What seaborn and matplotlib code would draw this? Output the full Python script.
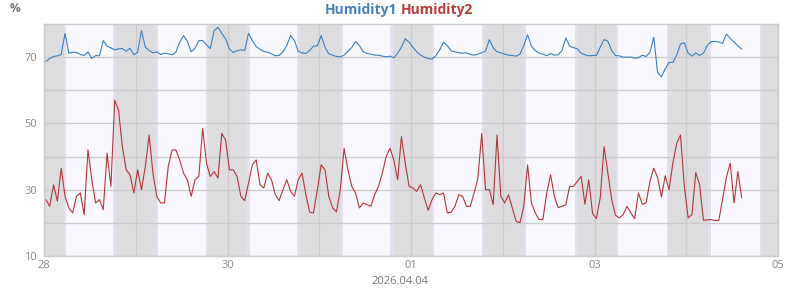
import numpy as np
import pandas as pd
import matplotlib
matplotlib.use("Agg")
import matplotlib.pyplot as plt
import matplotlib.dates as mdates
import seaborn as sns

# ---------------- data ----------------
start_time = "2026-03-28 00:30"   # hourly samples

humidity1 = [
    68.7, 69.6, 70.2, 70.4, 70.8, 77.2, 71.2, 71.5, 71.4, 70.8,
    70.5, 71.6, 69.6, 70.5, 70.4, 75.0, 73.3, 72.8, 72.2, 72.5,
    72.6, 71.8, 72.7, 70.7, 71.5, 78.0, 73.0, 72.0, 71.3, 71.6,
    70.8, 71.2, 71.0, 70.7, 71.5, 74.5, 76.5, 74.8, 71.6, 72.7,
    75.0, 75.0, 73.7, 72.6, 78.0, 79.0, 77.2, 75.5, 72.5, 71.4,
    72.0, 72.2, 72.0, 77.2, 75.0, 73.2, 72.4, 71.7, 71.5, 71.0,
    70.4, 70.5, 71.6, 73.5, 76.5, 75.0, 71.8, 71.3, 71.1, 72.0,
    73.3, 73.4, 76.5, 73.0, 71.0, 70.6, 70.2, 70.1, 70.6, 71.7,
    72.9, 74.7, 73.5, 71.6, 71.1, 70.9, 70.6, 70.6, 70.3, 70.1,
    70.3, 69.8, 71.2, 73.0, 75.6, 74.5, 73.0, 71.6, 70.6, 70.0,
    69.6, 69.4, 70.5, 72.2, 74.5, 73.5, 71.9, 71.6, 71.3, 71.2,
    71.3, 70.8, 70.6, 70.9, 71.3, 71.8, 75.3, 72.8, 71.6, 71.3,
    70.9, 70.6, 70.5, 70.3, 70.9, 73.5, 76.8, 73.3, 72.0, 71.2,
    70.9, 70.4, 71.1, 70.6, 70.7, 72.0, 75.8, 73.3, 72.9, 72.5,
    71.2, 70.7, 70.4, 70.5, 70.5, 73.0, 75.3, 74.8, 72.0, 70.5,
    70.4, 70.0, 70.0, 70.0, 69.7, 69.8, 70.6, 70.2, 71.5, 76.0,
    65.4, 64.0, 66.5, 68.4, 68.4, 70.6, 74.0, 74.3, 71.2, 70.3,
    71.3, 70.5, 71.2, 73.5, 74.7, 74.7, 74.6, 74.1, 77.0, 75.6,
    74.6, 73.4, 72.4,
]

humidity2 = [
    27.0, 25.0, 31.5, 26.5, 36.5, 28.0, 24.5, 23.0, 28.0, 29.0,
    22.5, 42.0, 33.0, 26.0, 27.0, 24.0, 41.0, 31.0, 57.0, 54.0,
    43.0, 36.0, 34.5, 29.0, 36.0, 30.0, 37.0, 46.5, 35.0, 28.0,
    26.0, 26.0, 37.0, 42.0, 42.0, 39.0, 35.0, 33.0, 28.0, 33.0,
    34.0, 48.5, 38.0, 34.0, 35.5, 33.5, 47.0, 45.0, 36.0, 36.0,
    34.0, 28.0, 26.7, 32.0, 37.5, 39.0, 31.5, 30.5, 35.0, 33.0,
    28.5, 26.7, 30.0, 33.0, 29.5, 28.0, 33.0, 35.0, 28.5, 23.2,
    23.0, 30.0, 37.5, 36.0, 28.0, 24.5, 23.3, 30.0, 42.5, 36.0,
    31.0, 29.0, 24.5, 26.0, 25.5, 25.0, 28.5, 31.0, 35.0, 40.0,
    42.5, 39.0, 33.0, 46.0, 38.0, 31.0, 30.5, 29.5, 31.5, 27.5,
    23.8, 27.0, 29.0, 28.5, 29.0, 23.0, 23.2, 25.0, 28.5, 28.0,
    25.0, 25.0, 29.0, 33.5, 47.0, 30.0, 30.0, 25.5, 46.5, 28.0,
    26.0, 28.5, 24.5, 20.5, 20.0, 25.0, 37.5, 26.0, 23.0, 21.0,
    21.0, 29.0, 34.5, 28.0, 24.6, 25.0, 25.5, 31.0, 31.0, 32.5,
    34.0, 25.6, 33.0, 22.8, 21.3, 27.6, 43.0, 35.0, 27.0, 22.3,
    21.5, 22.5, 25.0, 23.0, 21.3, 29.0, 25.6, 26.0, 32.5, 36.5,
    33.7, 27.8, 34.2, 30.0, 38.0, 44.0, 46.5, 31.0, 21.5, 22.5,
    35.2, 31.5, 20.8, 20.9, 21.0, 20.7, 20.7, 27.1, 33.7, 38.0,
    26.0, 35.5, 27.6,
]

# daylight (hours of day, local) for each day shown
day_dates = ["2026-03-28", "2026-03-29", "2026-03-30", "2026-03-31",
             "2026-04-01", "2026-04-02", "2026-04-03", "2026-04-04"]
sunrise_h = [5.50, 5.64, 5.50, 5.87, 5.70, 5.80, 5.87, 6.05]
sunset_h = [18.35, 18.55, 18.50, 18.90, 18.90, 19.15, 19.15, 19.55]

x_tick_dates = ["2026-03-28", "2026-03-30", "2026-04-01", "2026-04-03", "2026-04-05"]
x_tick_labels = ["28", "30", "01", "03", "05"]
y_tick_values = [10, 30, 50, 70]
series_names = ["Humidity1", "Humidity2"]
x_title = "2026.04.04"
y_unit = "%"

# ---------------- styling ----------------
sns.set_theme(style="white")
plt.rcParams["font.family"] = ["Open Sans", "DejaVu Sans"]

BLUE = "#3b7fbf"
RED = "#b5343b"
TITLE_BLUE = "#4682b8"
TITLE_RED = "#b83c3c"
NIGHT = "#dddde0"
DAY = "#faf8ff"
TWILIGHT = "#e4e0f0"
GRID = "#cbcbcb"
TXT = "#8a8a8a"

times = pd.date_range(start_time, periods=len(humidity1), freq="h")
df = pd.DataFrame({"time": times, series_names[0]: humidity1, series_names[1]: humidity2})
long_df = df.melt(id_vars="time", var_name="series", value_name="value")

fig = plt.figure(figsize=(8, 2.9), dpi=100)
ax = fig.add_axes([44 / 800, 34 / 290, 734 / 800, 232 / 290])
ax.set_facecolor(NIGHT)

tw = pd.Timedelta(minutes=18)
for d, sr, ss in zip(day_dates, sunrise_h, sunset_h):
    d0 = pd.Timestamp(d)
    rise = d0 + pd.Timedelta(hours=sr)
    sset = d0 + pd.Timedelta(hours=ss)
    ax.axvspan(rise - tw, sset + tw, color=TWILIGHT, lw=0, zorder=0.1)
    ax.axvspan(rise + tw, sset - tw, color=DAY, lw=0, zorder=0.2)

sns.lineplot(data=long_df, x="time", y="value", hue="series",
             palette={series_names[0]: BLUE, series_names[1]: RED},
             linewidth=0.8, legend=False, ax=ax, zorder=3)

ax.set_xlim(pd.Timestamp("2026-03-28"), pd.Timestamp("2026-04-05"))
ax.set_ylim(10, 80)

ax.set_xticks(pd.to_datetime(x_tick_dates))
ax.set_xticklabels(x_tick_labels)
ax.xaxis.set_minor_locator(mdates.DayLocator())
ax.set_yticks(y_tick_values)
ax.set_yticks([20, 40, 60], minor=True)

ax.set_axisbelow(True)
ax.grid(True, which="both", color=GRID, lw=1.0, zorder=0.5)
ax.tick_params(which="both", length=0)
ax.tick_params(axis="x", colors=TXT, labelsize=8, pad=3)
ax.tick_params(axis="y", colors=TXT, labelsize=8, pad=5)
for sp in ax.spines.values():
    sp.set_color(GRID)
    sp.set_linewidth(1.0)
    sp.set_visible(True)

ax.set_xlabel("")
ax.set_ylabel("")

fig.text(397 / 800, 1 - 10 / 290, series_names[0], color=TITLE_BLUE, fontsize=10,
         fontweight="bold", ha="right", va="center")
fig.text(401 / 800, 1 - 10 / 290, series_names[1], color=TITLE_RED, fontsize=10,
         fontweight="bold", ha="left", va="center")
fig.text(15 / 800, 1 - 9 / 290, y_unit, color="#777777", fontsize=8.5,
         fontweight="bold", ha="center", va="center")
fig.text(400 / 800, 1 - 282 / 290, x_title, color="#7a7a7a", fontsize=8,
         ha="center", va="center")

fig.savefig("out.png", dpi=100)
